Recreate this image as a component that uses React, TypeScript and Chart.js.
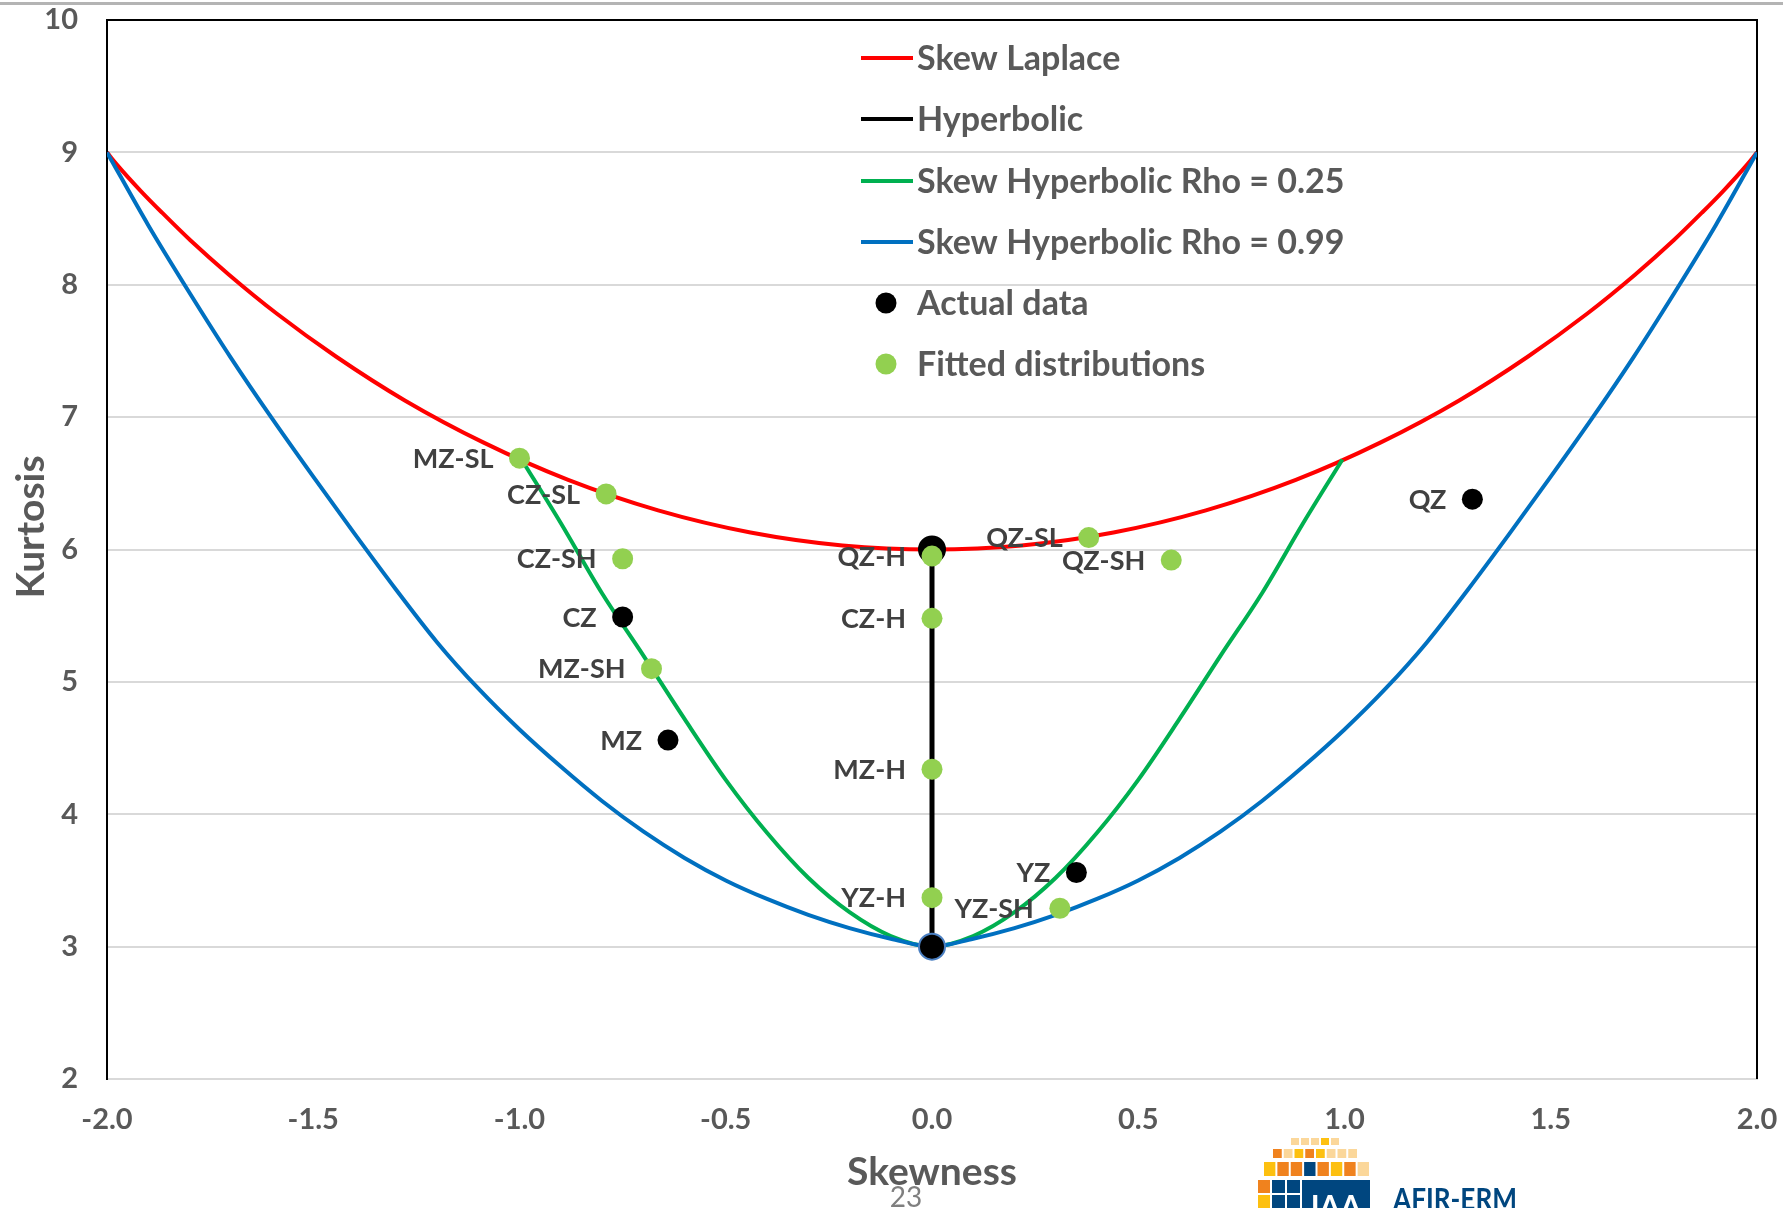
import React, { useEffect, useRef } from 'react';
import { Chart, registerables } from 'chart.js';

Chart.register(...registerables);

// ---- Data -------------------------------------------------------------

// Skew Laplace boundary (skewness, kurtosis)
const laplaceSkew = [-2, -1.975, -1.918, -1.867, -1.798, -1.705, -1.588, -1.445, -1.278, -1.088, -0.882, -0.664, -0.44, -0.217, 0, 0.217, 0.44, 0.664, 0.882, 1.088, 1.278, 1.445, 1.588, 1.705, 1.798, 1.867, 1.918, 1.975, 2];
const laplaceKurt = [9, 8.904, 8.708, 8.546, 8.336, 8.078, 7.781, 7.458, 7.126, 6.809, 6.526, 6.296, 6.129, 6.031, 6, 6.031, 6.129, 6.296, 6.526, 6.809, 7.126, 7.458, 7.781, 8.078, 8.336, 8.546, 8.708, 8.904, 9];

// Hyperbolic (symmetric) segment
const hyperSkew = [0, 0];
const hyperKurt = [3, 6];

// Skew hyperbolic, rho = 0.25
const sh25Skew = [-0.995, -0.9, -0.8, -0.7, -0.6, -0.5, -0.4, -0.3, -0.2, -0.1, 0, 0.1, 0.2, 0.3, 0.4, 0.5, 0.6, 0.7, 0.8, 0.9, 0.995];
const sh25Kurt = [6.68, 6.2, 5.67, 5.2, 4.72, 4.26, 3.86, 3.52, 3.26, 3.08, 3.0, 3.08, 3.26, 3.52, 3.86, 4.26, 4.72, 5.2, 5.67, 6.2, 6.68];

// Skew hyperbolic, rho = 0.99
const sh99Skew = [-2, -1.9, -1.8, -1.7, -1.6, -1.5, -1.4, -1.3, -1.2, -1.1, -1, -0.9, -0.8, -0.7, -0.6, -0.5, -0.4, -0.3, -0.2, -0.1, 0, 0.1, 0.2, 0.3, 0.4, 0.5, 0.6, 0.7, 0.8, 0.9, 1, 1.1, 1.2, 1.3, 1.4, 1.5, 1.6, 1.7, 1.8, 1.9, 2];
const sh99Kurt = [9.0, 8.45, 7.94, 7.45, 6.99, 6.55, 6.12, 5.7, 5.3, 4.95, 4.64, 4.36, 4.1, 3.87, 3.67, 3.5, 3.36, 3.24, 3.14, 3.06, 3.0, 3.06, 3.14, 3.24, 3.36, 3.5, 3.67, 3.87, 4.1, 4.36, 4.64, 4.95, 5.3, 5.7, 6.12, 6.55, 6.99, 7.45, 7.94, 8.45, 9.0];

// Actual data
const actualNames = ['QZ', 'CZ', 'MZ', 'YZ'];
const actualSkew = [1.31, -0.75, -0.64, 0.35];
const actualKurt = [6.38, 5.49, 4.56, 3.56];

// Fitted distributions
const fittedNames = ['MZ-SL', 'CZ-SL', 'CZ-SH', 'MZ-SH', 'QZ-H', 'CZ-H', 'MZ-H', 'YZ-H', 'QZ-SL', 'QZ-SH', 'YZ-SH'];
const fittedSkew = [-1.0, -0.79, -0.75, -0.68, 0, 0, 0, 0, 0.38, 0.58, 0.31];
const fittedKurt = [6.69, 6.42, 5.93, 5.1, 5.95, 5.48, 4.34, 3.37, 6.09, 5.92, 3.29];

// Axis ranges and ticks
const xMin = -2;
const xMax = 2;
const xStep = 0.5;
const yMin = 2;
const yMax = 10;
const yStep = 1;

const xTitle = 'Skewness';
const yTitle = 'Kurtosis';
const pageNumber = '23';

const legendLabels = ['Skew Laplace', 'Hyperbolic', 'Skew Hyperbolic Rho = 0.25', 'Skew Hyperbolic Rho = 0.99', 'Actual data', 'Fitted distributions'];

// ---- Styling ------------------------------------------------------------

const W = 1783;
const H = 1208;
const FONT = 'Lato, "Open Sans", "DejaVu Sans", sans-serif';
const RED = '#ff0000';
const BLACK = '#000000';
const GREEN_LINE = '#00b050';
const BLUE = '#0070c0';
const GREEN_PT = '#92d050';
const AXIS_TEXT = '#595959';
const LABEL_TEXT = '#404040';
const GRID = '#d9d9d9';

const legendStyles = [
  { kind: 'line', color: RED },
  { kind: 'line', color: BLACK },
  { kind: 'line', color: GREEN_LINE },
  { kind: 'line', color: BLUE },
  { kind: 'point', color: BLACK },
  { kind: 'point', color: GREEN_PT },
];

const zip = (xs: number[], ys: number[]) => xs.map((x, i) => ({ x, y: ys[i] }));

const decorPlugin = {
  id: 'decor',
  beforeDraw(chart: any) {
    const { ctx } = chart;
    ctx.save();
    ctx.fillStyle = '#ffffff';
    ctx.fillRect(0, 0, chart.width, chart.height);
    // rule across the top of the page
    ctx.fillStyle = '#b4b4b4';
    ctx.fillRect(0, 2, chart.width, 3);
    ctx.restore();
  },
  beforeDatasetsDraw(chart: any) {
    const { ctx, chartArea: a } = chart;
    ctx.save();
    ctx.strokeStyle = BLACK;
    ctx.lineWidth = 2;
    ctx.beginPath();
    ctx.moveTo(a.left, a.top);
    ctx.lineTo(a.right, a.top);
    ctx.lineTo(a.right, a.bottom);
    ctx.stroke();
    ctx.restore();
  },
  afterDatasetsDraw(chart: any) {
    const { ctx } = chart;
    ctx.save();
    ctx.font = `bold 27px ${FONT}`;
    ctx.fillStyle = LABEL_TEXT;
    ctx.textAlign = 'right';
    ctx.textBaseline = 'middle';
    const drawNames = (dsIndex: number, names: string[]) => {
      const meta = chart.getDatasetMeta(dsIndex);
      meta.data.forEach((el: any, i: number) => {
        ctx.fillText(names[i], el.x - 26, el.y + 1);
      });
    };
    drawNames(0, fittedNames);
    drawNames(1, actualNames);
    ctx.restore();
  },
  afterDraw(chart: any) {
    const { ctx } = chart;
    ctx.save();
    // legend
    const rowY = [58, 119, 181, 242, 303, 364];
    ctx.font = `bold 34px ${FONT}`;
    ctx.textBaseline = 'middle';
    ctx.textAlign = 'left';
    legendLabels.forEach((label, i) => {
      const st = legendStyles[i];
      const y = rowY[i];
      if (st.kind === 'line') {
        ctx.strokeStyle = st.color;
        ctx.lineWidth = 4;
        ctx.beginPath();
        ctx.moveTo(861, y);
        ctx.lineTo(913, y);
        ctx.stroke();
      } else {
        ctx.fillStyle = st.color;
        ctx.beginPath();
        ctx.arc(886, y, 10.5, 0, Math.PI * 2);
        ctx.fill();
      }
      ctx.fillStyle = AXIS_TEXT;
      ctx.fillText(label, 917, y + 1);
    });

    // axis titles
    ctx.font = `bold 39px ${FONT}`;
    ctx.fillStyle = AXIS_TEXT;
    ctx.textAlign = 'center';
    ctx.textBaseline = 'middle';
    ctx.fillText(xTitle, 932, 1172);
    ctx.save();
    ctx.translate(31, 527);
    ctx.rotate(-Math.PI / 2);
    ctx.fillText(yTitle, 0, 0);
    ctx.restore();

    // page number
    ctx.font = `28px ${FONT}`;
    ctx.fillStyle = '#7f7f7f';
    ctx.textBaseline = 'alphabetic';
    ctx.fillText(pageNumber, 906, 1207);
    ctx.restore();
  },
};

function Logo() {
  const pale = '#fbd79a';
  const yellow = '#fdc010';
  const orange = '#f0821e';
  const navy = '#00467f';
  const row1 = [pale, pale, pale, yellow, pale];
  const row2 = [orange, pale, yellow, orange, yellow, pale, pale, pale];
  const row3 = [yellow, orange, orange, navy, orange, yellow, orange, pale];
  const tiles = (cols: string[], x0: number, x1: number, y0: number, h: number) => {
    const w = (x1 - x0) / cols.length;
    return cols.map((c, i) => (
      <rect key={`${y0}-${i}`} x={x0 + i * w + 1} y={y0} width={w - 2} height={h} fill={c} />
    ));
  };
  return (
    <svg width={280} height={78} style={{ position: 'absolute', left: 1250, top: 1130 }}>
      {tiles(row1, 40, 90, 8, 7)}
      {tiles(row2, 22, 108, 19, 9)}
      {tiles(row3, 13, 120, 32, 14)}
      <rect x={8} y={50} width={12} height={13} fill={orange} />
      <rect x={8} y={65} width={12} height={13} fill={yellow} />
      <rect x={22} y={50} width={13} height={13} fill={navy} />
      <rect x={22} y={65} width={13} height={13} fill={navy} />
      <rect x={37} y={50} width={13} height={13} fill={navy} />
      <rect x={37} y={65} width={13} height={13} fill={navy} />
      <rect x={52} y={50} width={68} height={28} fill={navy} />
      <text x={86} y={87} fill="#ffffff" fontFamily={FONT} fontWeight="bold" fontSize={30} textAnchor="middle">IAA</text>
      <text x={143} y={80} fill={navy} fontFamily={FONT} fontWeight="bold" fontSize={30} textLength={124} lengthAdjust="spacingAndGlyphs">AFIR-ERM</text>
    </svg>
  );
}

const noScalePadding = (scale: any) => {
  scale.paddingTop = 0;
  scale.paddingBottom = 0;
  scale.paddingLeft = 0;
  scale.paddingRight = 0;
};

export default function App() {
  const canvasRef = useRef<HTMLCanvasElement | null>(null);

  useEffect(() => {
    const canvas = canvasRef.current;
    if (!canvas) return;
    const chart = new Chart(canvas, {
      type: 'scatter',
      data: {
        datasets: [
          {
            label: 'Fitted distributions',
            data: zip(fittedSkew, fittedKurt),
            pointRadius: 10.5,
            pointBackgroundColor: GREEN_PT,
            pointBorderWidth: 0,
            showLine: false,
            order: 0,
          },
          {
            label: 'Actual data',
            data: zip(actualSkew, actualKurt),
            pointRadius: 10.5,
            pointBackgroundColor: BLACK,
            pointBorderWidth: 0,
            showLine: false,
            order: 1,
          },
          {
            label: 'Hyperbolic',
            data: zip(hyperSkew, hyperKurt),
            showLine: true,
            borderColor: BLACK,
            borderWidth: 5,
            pointRadius: 13,
            pointBackgroundColor: BLACK,
            pointBorderColor: ['#4a7fc1', BLACK],
            pointBorderWidth: 2,
            order: 2,
          },
          {
            label: 'Skew Hyperbolic Rho = 0.99',
            data: zip(sh99Skew, sh99Kurt),
            showLine: true,
            borderColor: BLUE,
            borderWidth: 4,
            pointRadius: 0,
            cubicInterpolationMode: 'monotone',
            order: 3,
          },
          {
            label: 'Skew Hyperbolic Rho = 0.25',
            data: zip(sh25Skew, sh25Kurt),
            showLine: true,
            borderColor: GREEN_LINE,
            borderWidth: 4,
            pointRadius: 0,
            cubicInterpolationMode: 'monotone',
            order: 4,
          },
          {
            label: 'Skew Laplace',
            data: zip(laplaceSkew, laplaceKurt),
            showLine: true,
            borderColor: RED,
            borderWidth: 4,
            pointRadius: 0,
            cubicInterpolationMode: 'monotone',
            order: 5,
          },
        ],
      },
      options: {
        responsive: false,
        animation: false,
        devicePixelRatio: 1,
        events: [],
        layout: { padding: { top: 20, right: 26, left: 0, bottom: 0 } },
        plugins: {
          legend: { display: false },
          tooltip: { enabled: false },
        },
        scales: {
          x: {
            type: 'linear',
            min: xMin,
            max: xMax,
            afterFit: (scale: any) => {
              scale.height = 129;
              noScalePadding(scale);
            },
            ticks: {
              stepSize: xStep,
              autoSkip: false,
              maxRotation: 0,
              padding: 23,
              color: AXIS_TEXT,
              font: { family: FONT, size: 29, weight: 'bold' },
              callback: (v: any) => Number(v).toFixed(1),
            },
            grid: { display: false, drawTicks: false },
            border: { display: true, color: GRID, width: 2 },
          },
          y: {
            type: 'linear',
            min: yMin,
            max: yMax,
            afterFit: (scale: any) => {
              scale.width = 107;
              noScalePadding(scale);
            },
            ticks: {
              stepSize: yStep,
              padding: 29,
              color: AXIS_TEXT,
              font: { family: FONT, size: 29, weight: 'bold' },
            },
            grid: {
              drawTicks: false,
              lineWidth: 2,
              color: (ctx: any) => (ctx.tick && ctx.tick.value === yMax ? 'rgba(0,0,0,0)' : GRID),
            },
            border: { display: true, color: BLACK, width: 2 },
          },
        },
      },
      plugins: [decorPlugin],
    } as any);
    return () => chart.destroy();
  }, []);

  return (
    <div style={{ position: 'fixed', left: 0, top: 0, width: W, height: H, overflow: 'hidden', background: '#fff' }}>
      <canvas ref={canvasRef} width={W} height={H} style={{ display: 'block' }} />
      <Logo />
    </div>
  );
}
